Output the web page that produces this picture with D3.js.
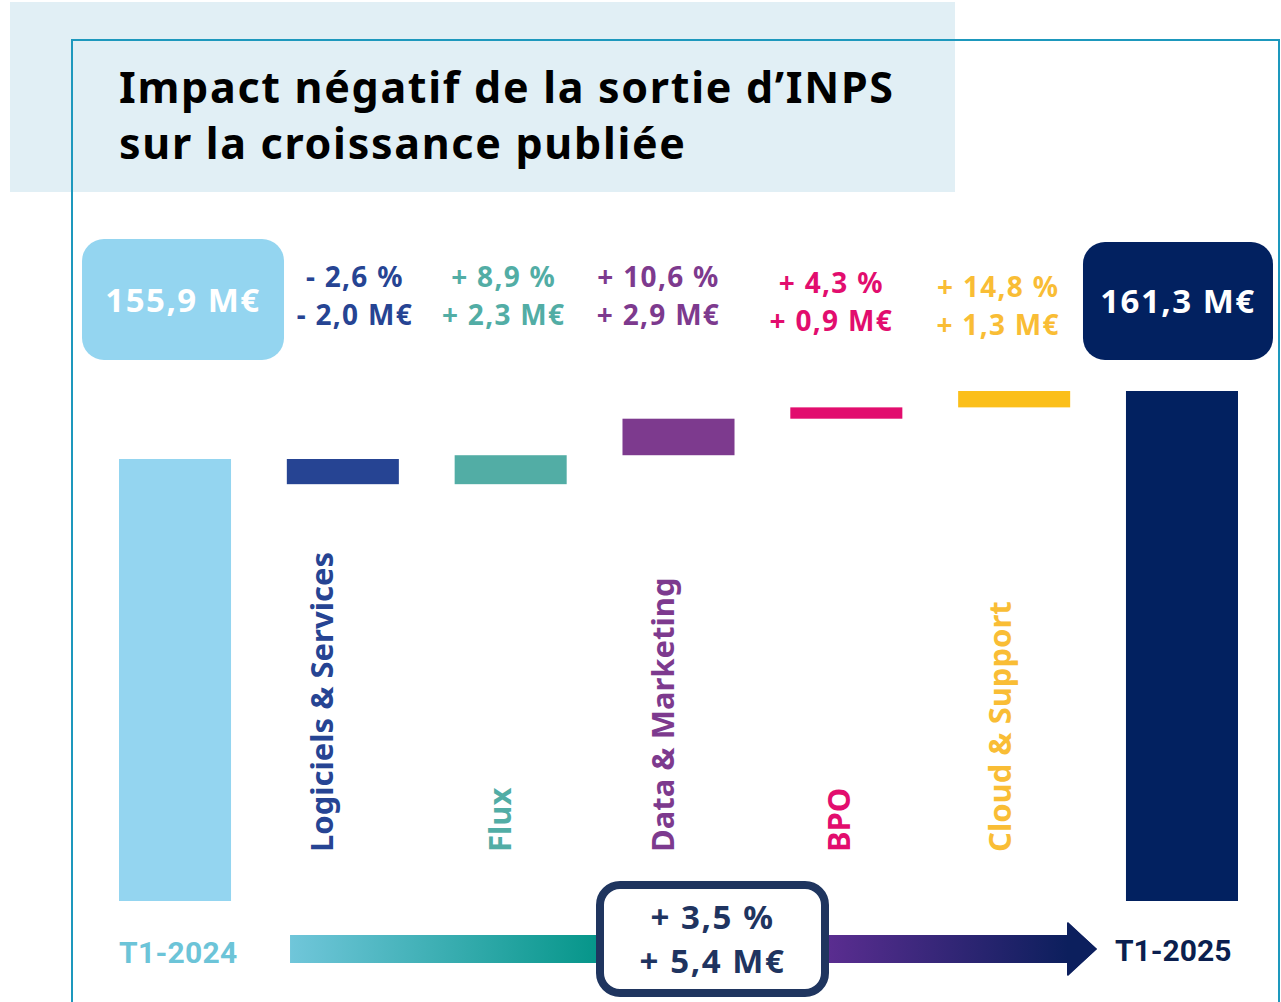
<!DOCTYPE html>
<html>
<head>
<meta charset="utf-8">
<script src="https://cdn.jsdelivr.net/npm/d3@7"></script>
<style>
  html, body { margin: 0; padding: 0; background: #fff; }
  svg { display: block; }
  text { font-family: "Noto Sans", "Lato", sans-serif; font-weight: 700; }
</style>
</head>
<body>
<div id="chart"></div>
<script>
// --- Données ---
const titleLines = ["Impact négatif de la sortie d’INPS", "sur la croissance publiée"];
const periods = ["T1-2024", "T1-2025"];
const startValue = 155.9;
const endValue = 161.3;
const segments = ["Logiciels & Services", "Flux", "Data & Marketing", "BPO", "Cloud & Support"];
const deltaMEur = [-2.0, 2.3, 2.9, 0.9, 1.3];
const deltaPct = [-2.6, 8.9, 10.6, 4.3, 14.8];
const segmentColors = ["#264493", "#52ada5", "#7d3a8e", "#e20d6e", "#fbbf1a"];
const segmentTextColors = ["#264493", "#52ada5", "#7d3a8e", "#e20d6e", "#f9bd35"];
const totalPct = 3.5;
const totalMEur = 5.4;
const axisFloor = 120.8; // axe tronqué (barres partent d'ici)

// --- Mise en page ---
const W = 1281, H = 1002;
const baseY = 901, topY = 391;
const labelNudgeX = [12, -7, -20, -15, -16];
const labelNudgeY = [0, 0, 0, 6, 10];
const catNudgeX = [-8, 2, -3, 6, -1];

const fr = d3.formatLocale({ decimal: ",", thousands: " ", grouping: [3], currency: ["", " €"] });
const f1 = fr.format(".1f");
const signed = v => (v < 0 ? "- " : "+ ") + f1(Math.abs(v));

const svg = d3.select("#chart").append("svg")
  .attr("width", W).attr("height", H);

const defs = svg.append("defs");

// Fond du titre + cadre
svg.append("rect")
  .attr("x", 10).attr("y", 2).attr("width", 945).attr("height", 190)
  .attr("fill", "#e1eff5");

svg.append("path")
  .attr("d", `M72,${H} V40 H1279 V${H}`)
  .attr("fill", "none")
  .attr("stroke", "#1d98bd")
  .attr("stroke-width", 2);

svg.selectAll(".title")
  .data(titleLines)
  .enter().append("text")
  .attr("class", "title")
  .attr("x", 119)
  .attr("y", (d, i) => 103 + i * 56)
  .attr("fill", "#000")
  .style("font-size", "43px")
  .style("letter-spacing", "1.7px")
  .text(d => d);

// --- Echelles ---
const categories = [periods[0], ...segments, periods[1]];
const x = d3.scaleBand()
  .domain(categories)
  .range([119, 1238])
  .paddingInner(0.3325)
  .paddingOuter(0);

const y = d3.scaleLinear()
  .domain([axisFloor, endValue])
  .range([baseY, topY]);

// cumul pour la cascade
let running = startValue;
const steps = segments.map((s, i) => {
  const from = running;
  running = running + deltaMEur[i];
  return { name: s, from, to: running, delta: deltaMEur[i], pct: deltaPct[i], color: segmentColors[i], textColor: segmentTextColors[i], i };
});

// --- Barres ---
svg.append("rect")
  .attr("x", x(periods[0])).attr("width", x.bandwidth())
  .attr("y", y(startValue)).attr("height", y(axisFloor) - y(startValue))
  .attr("fill", "#94d5f0");

svg.append("rect")
  .attr("x", x(periods[1])).attr("width", x.bandwidth())
  .attr("y", y(endValue)).attr("height", y(axisFloor) - y(endValue))
  .attr("fill", "#022160");

svg.selectAll(".step")
  .data(steps)
  .enter().append("rect")
  .attr("class", "step")
  .attr("x", d => x(d.name))
  .attr("width", x.bandwidth())
  .attr("y", d => y(Math.max(d.from, d.to)))
  .attr("height", d => Math.abs(y(d.from) - y(d.to)))
  .attr("fill", d => d.color);

// --- Etiquettes de valeur ---
const valueLabels = svg.selectAll(".vlabel")
  .data(steps)
  .enter().append("text")
  .attr("class", "vlabel")
  .attr("text-anchor", "middle")
  .attr("fill", d => d.textColor)
  .style("font-size", "28px")
  .style("letter-spacing", "1.3px");

valueLabels.append("tspan")
  .attr("x", d => x(d.name) + x.bandwidth() / 2 + labelNudgeX[d.i])
  .attr("y", d => 287 + labelNudgeY[d.i])
  .text(d => signed(d.pct) + " %");

valueLabels.append("tspan")
  .attr("x", d => x(d.name) + x.bandwidth() / 2 + labelNudgeX[d.i])
  .attr("y", d => 325 + labelNudgeY[d.i])
  .text(d => signed(d.delta) + " M€");

// Boîtes début / fin
const boxes = [
  { key: periods[0], value: startValue, fill: "#94d5f0", cx: x(periods[0]) + x.bandwidth() / 2 + 8, w: 202, y: 239, h: 121 },
  { key: periods[1], value: endValue, fill: "#022160", cx: x(periods[1]) + x.bandwidth() / 2 - 4, w: 190, y: 242, h: 118 }
];
svg.selectAll(".vbox")
  .data(boxes)
  .enter().append("rect")
  .attr("class", "vbox")
  .attr("x", d => d.cx - d.w / 2).attr("y", d => d.y)
  .attr("width", d => d.w).attr("height", d => d.h)
  .attr("rx", 22)
  .attr("fill", d => d.fill);

svg.selectAll(".vboxtext")
  .data(boxes)
  .enter().append("text")
  .attr("class", "vboxtext")
  .attr("x", d => d.cx)
  .attr("y", d => d.y + d.h / 2 + 12)
  .attr("text-anchor", "middle")
  .attr("fill", "#fff")
  .style("font-size", "33px")
  .style("letter-spacing", "1.5px")
  .text(d => f1(d.value) + " M€");

// --- Libellés verticaux ---
svg.selectAll(".catlabel")
  .data(steps)
  .enter().append("text")
  .attr("class", "catlabel")
  .attr("transform", d => `translate(${x(d.name) + x.bandwidth() / 2 - 2 + catNudgeX[d.i]}, 852) rotate(-90)`)
  .attr("text-anchor", "start")
  .attr("fill", d => d.textColor)
  .style("font-size", "31px")
  .text(d => d.name);

// --- Flèche du bas ---
const arrowY = 949, shaft = 28;
const arrowStart = x(periods[0]) + x.bandwidth() + 59;
const arrowTip = x(periods[1]) - 29;
const headBase = arrowTip - 29;
const boxL = 596, boxR = 829;

const g1 = defs.append("linearGradient").attr("id", "gLeft")
  .attr("gradientUnits", "userSpaceOnUse")
  .attr("x1", arrowStart).attr("x2", boxL).attr("y1", 0).attr("y2", 0);
g1.append("stop").attr("offset", 0).attr("stop-color", "#70c6da");
g1.append("stop").attr("offset", 1).attr("stop-color", "#06968a");

const g2 = defs.append("linearGradient").attr("id", "gRight")
  .attr("gradientUnits", "userSpaceOnUse")
  .attr("x1", boxR).attr("x2", headBase).attr("y1", 0).attr("y2", 0);
g2.append("stop").attr("offset", 0).attr("stop-color", "#5a2d90");
g2.append("stop").attr("offset", 1).attr("stop-color", "#0c1f5d");

svg.append("rect")
  .attr("x", arrowStart).attr("y", arrowY - shaft / 2)
  .attr("width", boxL + 20 - arrowStart).attr("height", shaft)
  .attr("fill", "url(#gLeft)");

svg.append("path")
  .attr("d", `M${boxR - 20},${arrowY - shaft / 2} H${headBase} V${arrowY - 27} L${arrowTip},${arrowY} L${headBase},${arrowY + 27} V${arrowY + shaft / 2} H${boxR - 20} Z`)
  .attr("fill", "url(#gRight)");

svg.append("path")
  .attr("d", `M${headBase - 1},${arrowY - 27} L${arrowTip},${arrowY} L${headBase - 1},${arrowY + 27} Z`)
  .attr("fill", "#0c1f5d");

svg.append("rect")
  .attr("x", boxL + 4).attr("y", 885)
  .attr("width", boxR - boxL - 8).attr("height", 108)
  .attr("rx", 20)
  .attr("fill", "#fff")
  .attr("stroke", "#1f355f")
  .attr("stroke-width", 8);

const totalText = svg.append("text")
  .attr("text-anchor", "middle")
  .attr("fill", "#1f3460")
  .style("font-size", "33px")
  .style("letter-spacing", "1.6px");
totalText.append("tspan").attr("x", (boxL + boxR) / 2).attr("y", 929).text(signed(totalPct) + " %");
totalText.append("tspan").attr("x", (boxL + boxR) / 2).attr("y", 973).text(signed(totalMEur) + " M€");

// Libellés des périodes
svg.append("text")
  .attr("x", x(periods[0])).attr("y", 963)
  .attr("fill", "#6cc4d8")
  .style("font-family", "Roboto, sans-serif")
  .style("font-size", "30px")
  .style("letter-spacing", "0.3px")
  .text(periods[0]);

svg.append("text")
  .attr("x", x(periods[1]) - 11).attr("y", 961)
  .attr("fill", "#0b1f4f")
  .style("font-family", "Roboto, sans-serif")
  .style("font-size", "30px")
  .text(periods[1]);
</script>
</body>
</html>
